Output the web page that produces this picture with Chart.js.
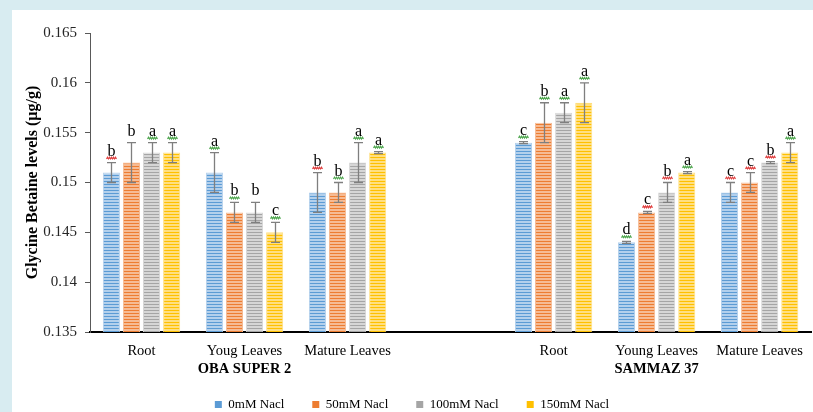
<!DOCTYPE html>
<html>
<head>
<meta charset="utf-8">
<script src="https://cdn.jsdelivr.net/npm/chart.js@4.4.1/dist/chart.umd.min.js"></script>
<style>
  html, body { margin: 0; padding: 0; overflow: hidden; background: #d8ecf1; width: 813px; height: 412px; }
  #panel { position: absolute; left: 12px; top: 10px; width: 801px; height: 411px; background: #fff; }
  canvas { display: block; }
</style>
</head>
<body>
<div id="panel"><canvas id="chart" width="801" height="411"></canvas></div>
<script>
// ---- data ----
const categories = ['Root', 'Youg Leaves', 'Mature Leaves', '', 'Root', 'Young Leaves', 'Mature Leaves'];
const cultivars = ['OBA SUPER 2', 'SAMMAZ 37'];
const cultivarSpans = [[0, 2], [4, 6]];
const seriesNames = ['0mM Nacl', '50mM Nacl', '100mM Nacl', '150mM Nacl'];
const yTicks = [0.135, 0.14, 0.145, 0.15, 0.155, 0.16, 0.165];

const nacl0   = [0.151, 0.151, 0.149, null, 0.154, 0.144, 0.149];
const nacl50  = [0.152, 0.147, 0.149, null, 0.156, 0.147, 0.150];
const nacl100 = [0.153, 0.147, 0.152, null, 0.157, 0.149, 0.152];
const nacl150 = [0.153, 0.145, 0.153, null, 0.158, 0.151, 0.153];

const err0   = [0.001, 0.002, 0.002, null, 0.0001, 0.0001, 0.001];
const err50  = [0.002, 0.001, 0.001, null, 0.002, 0.0001, 0.001];
const err100 = [0.001, 0.001, 0.002, null, 0.001, 0.001, 0.0001];
const err150 = [0.001, 0.001, 0.0001, null, 0.002, 0.0001, 0.001];

const letters0   = ['b', 'a', 'b', '', 'c', 'd', 'c'];
const letters50  = ['b', 'b', 'b', '', 'b', 'c', 'c'];
const letters100 = ['a', 'b', 'a', '', 'a', 'b', 'b'];
const letters150 = ['a', 'c', 'a', '', 'a', 'a', 'a'];

// ---- styling ----
const FONT = 'Liberation Serif';
const baseColors  = ['#5b9bd5', '#ed7d31', '#a5a5a5', '#ffc000'];
const lightColors = ['#b3d0ec', '#f6bb94', '#d6d6d6', '#ffdf80'];
// proof-reading squiggles under the significance letters (r = red, g = green)
const squiggles = [
  ['r', 'g', 'r', '', 'g', 'g', 'r'],
  ['',  'g', 'g', '', 'g', 'r', 'r'],
  ['g', '',  'g', '', 'g', 'r', 'r'],
  ['g', 'g', 'g', '', 'g', 'g', 'g']
];

function stripes(base, light) {
  const c = document.createElement('canvas');
  c.width = 4; c.height = 3;
  const g = c.getContext('2d');
  g.fillStyle = light; g.fillRect(0, 0, 4, 3);
  g.fillStyle = base;  g.fillRect(0, 0, 4, 1);
  return g.createPattern(c, 'repeat');
}

const values  = [nacl0, nacl50, nacl100, nacl150];
const errors  = [err0, err50, err100, err150];
const letters = [letters0, letters50, letters100, letters150];

const datasets = seriesNames.map((name, k) => ({
  label: name,
  data: values[k],
  errors: errors[k],
  letters: letters[k],
  backgroundColor: stripes(baseColors[k], lightColors[k]),
  borderColor: lightColors[k],
  borderWidth: 1,
  categoryPercentage: 0.78,
  barPercentage: 0.85
}));

// error bars, significance letters and cultivar names
const annotate = {
  id: 'annotate',
  afterDatasetsDraw(chart) {
    const ctx = chart.ctx;
    const ys = chart.scales.y;
    ctx.save();
    chart.data.datasets.forEach((ds, di) => {
      const meta = chart.getDatasetMeta(di);
      meta.data.forEach((bar, i) => {
        const v = ds.data[i];
        if (v == null) return;
        const e = ds.errors[i] || 0;
        const top = ys.getPixelForValue(v + e);
        const bot = ys.getPixelForValue(v - e);
        const x = Math.round(bar.x) + 0.5;
        ctx.strokeStyle = '#7f7f7f';
        ctx.lineWidth = 1.3;
        ctx.beginPath();
        ctx.moveTo(x, top); ctx.lineTo(x, bot);
        ctx.moveTo(x - 4.5, top); ctx.lineTo(x + 4.5, top);
        ctx.moveTo(x - 4.5, bot); ctx.lineTo(x + 4.5, bot);
        ctx.stroke();

        const t = ds.letters[i];
        if (!t) return;
        ctx.fillStyle = '#000';
        ctx.font = '16px "' + FONT + '"';
        ctx.textAlign = 'center';
        ctx.textBaseline = 'alphabetic';
        ctx.fillText(t, x, top - 7);
        const mark = squiggles[di][i];
        if (mark) {
          ctx.strokeStyle = mark === 'r' ? '#e04040' : '#52a852';
          ctx.lineWidth = 1.1;
          ctx.beginPath();
          const yy = top - 4.5;
          for (let s = -5; s <= 5; s++) {
            const py = yy + (s % 2 === 0 ? -0.9 : 0.9);
            if (s === -5) ctx.moveTo(x + s, py); else ctx.lineTo(x + s, py);
          }
          ctx.stroke();
        }
      });
    });
    ctx.restore();
  },
  afterDraw(chart) {
    const ctx = chart.ctx;
    const xs = chart.scales.x;
    ctx.save();
    ctx.fillStyle = '#000';
    ctx.font = 'bold 14.5px "' + FONT + '"';
    ctx.textAlign = 'center';
    ctx.textBaseline = 'middle';
    cultivars.forEach((name, g) => {
      const [a, b] = cultivarSpans[g];
      const cx = (xs.getPixelForValue(a) + xs.getPixelForValue(b)) / 2;
      ctx.fillText(name, cx, chart.chartArea.bottom + 37);
    });
    ctx.restore();
  }
};

new Chart(document.getElementById('chart'), {
  type: 'bar',
  data: { labels: categories, datasets },
  plugins: [annotate],
  options: {
    responsive: false,
    animation: false,
    devicePixelRatio: 1,
    layout: { padding: { left: 0, right: 1, top: 23, bottom: 0 } },
    plugins: {
      tooltip: { enabled: false },
      legend: {
        position: 'bottom',
        labels: {
          font: { family: FONT, size: 13 },
          color: '#000',
          boxWidth: 7,
          boxHeight: 7,
          padding: 28,
          generateLabels: () => seriesNames.map((n, k) => ({
            text: n, fillStyle: baseColors[k], strokeStyle: baseColors[k],
            lineWidth: 0, hidden: false, datasetIndex: k, fontColor: '#000'
          }))
        }
      }
    },
    scales: {
      x: {
        grid: { display: false, drawTicks: false },
        border: { color: '#000', width: 2 },
        ticks: { font: { family: FONT, size: 14.5 }, color: '#000', padding: 10, maxRotation: 0, autoSkip: false },
        afterFit(s) { s.height = 38; }
      },
      y: {
        min: 0.135,
        max: 0.165,
        afterBuildTicks(s) { s.ticks = yTicks.map(v => ({ value: v })); },
        ticks: { font: { family: FONT, size: 15 }, color: '#262626', padding: 8, callback: v => String(+v.toFixed(3)) },
        grid: { drawOnChartArea: false, tickLength: 5, color: '#595959' },
        border: { color: '#595959' },
        title: {
          display: true,
          text: 'Glycine Betaine levels (µg/g)',
          font: { family: FONT, size: 16, weight: 'bold' },
          color: '#000',
          padding: { top: 11, bottom: 0 }
        },
        afterFit(s) { s.width = 78; }
      }
    }
  }
});
</script>
</body>
</html>
